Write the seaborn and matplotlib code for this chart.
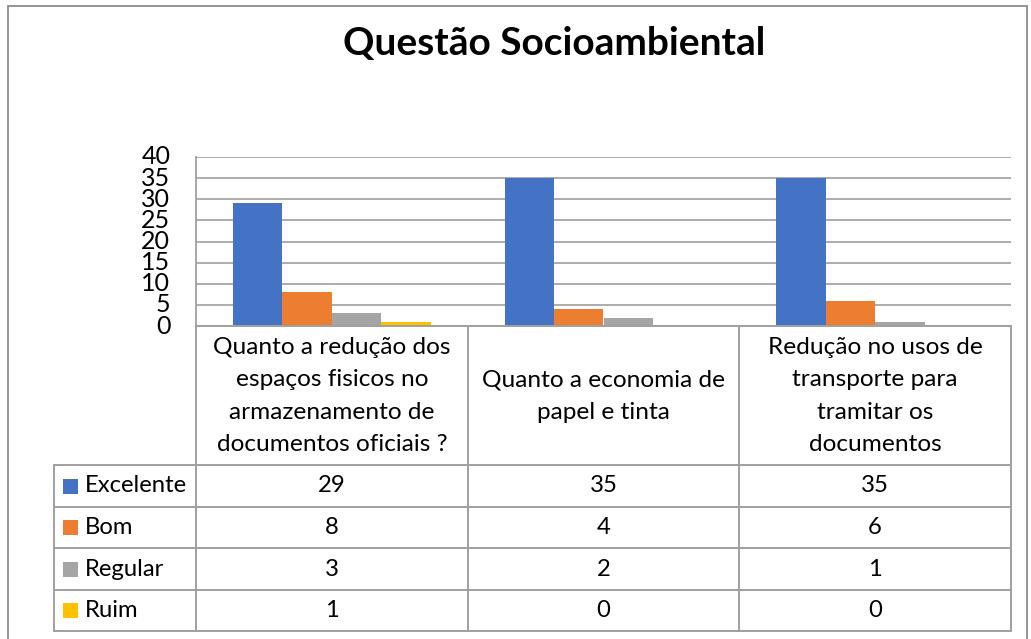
import textwrap
import matplotlib
matplotlib.use("Agg")
import matplotlib.pyplot as plt
import matplotlib.transforms as mtransforms
from matplotlib.lines import Line2D
from matplotlib.patches import Rectangle
import pandas as pd
import seaborn as sns

# ---- data ----
categories = [
    "Quanto a redução dos espaços fisicos no armazenamento de documentos oficiais ?",
    "Quanto a economia de papel e tinta",
    "Redução no usos de transporte para tramitar os documentos",
]
series = ["Excelente", "Bom", "Regular", "Ruim"]
excelente = [29, 35, 35]
bom = [8, 4, 6]
regular = [3, 2, 1]
ruim = [1, 0, 0]
y_ticks = [0, 5, 10, 15, 20, 25, 30, 35, 40]
title = "Questão Socioambiental"
colors = ["#4472C4", "#ED7D31", "#A5A5A5", "#FFC000"]

values = {"Excelente": excelente, "Bom": bom, "Regular": regular, "Ruim": ruim}
rows = []
for s in series:
    for c, v in zip(categories, values[s]):
        rows.append({"categoria": c, "serie": s, "valor": v})
df = pd.DataFrame(rows)

# ---- figure ----
sns.set_theme(style="white")
plt.rcParams["font.family"] = ["Lato", "DejaVu Sans"]

W, H = 1031, 639
fig = plt.figure(figsize=(W / 100, H / 100), dpi=100)

def fx(px):
    return px / W

def fy(py):
    return 1 - py / H

ax = fig.add_axes([fx(196), fy(326), fx(1011) - fx(196), fy(157) - fy(326)])
sns.barplot(data=df, x="categoria", y="valor", hue="serie", order=categories,
            hue_order=series, palette=colors, width=0.727, saturation=1,
            edgecolor="none", linewidth=0, legend=False, ax=ax)

ax.set_xlim(-0.5, len(categories) - 0.5)
ax.set_ylim(0, 40)
ax.set_yticks(y_ticks)
ax.set_yticklabels([str(t) for t in y_ticks], fontsize=18, color="black")
ax.set_xticks([])
ax.set_xlabel("")
ax.set_ylabel("")
ax.tick_params(axis="y", length=0, pad=18.5)
for lab in ax.get_yticklabels():
    lab.set_verticalalignment("center")
ax.grid(axis="y", color="#A6A6A6", linewidth=1.3)
ax.set_axisbelow(True)
for side in ["top", "right", "bottom"]:
    ax.spines[side].set_visible(False)
ax.spines["left"].set_color("#A0A0A0")
ax.spines["left"].set_linewidth(1.3)

# title
fig.text(fx(554), fy(43), title, ha="center", va="center",
         fontsize=28, fontweight="bold", color="black")

# ---- data table ----
line_c = "#A0A0A0"
lw = 1.4
bt = mtransforms.blended_transform_factory(ax.transData, fig.transFigure)
ft = fig.transFigure

top_hdr = fy(326)
row_edges = [465, 507, 548, 590, 631]

# header vertical lines (category boundaries from data scale)
bounds = [i - 0.5 for i in range(len(categories) + 1)]
for b in bounds:
    fig.add_artist(Line2D([b, b], [fy(326), fy(row_edges[-1])], transform=bt,
                          color=line_c, lw=lw))
# horizontal lines
fig.add_artist(Line2D([bounds[0], bounds[-1]], [top_hdr, top_hdr], transform=bt,
                      color=line_c, lw=lw))
for r in row_edges:
    fig.add_artist(Line2D([fx(54), fx(1011)], [fy(r), fy(r)], transform=ft,
                          color=line_c, lw=lw))
# legend column left edge
fig.add_artist(Line2D([fx(54), fx(54)], [fy(row_edges[0]), fy(row_edges[-1])],
                      transform=ft, color=line_c, lw=lw))

# category header text
for i, c in enumerate(categories):
    fig.text(i, fy(396), textwrap.fill(c, 21), transform=bt, ha="center",
             va="center", fontsize=17.6, linespacing=1.68, color="black")

# rows
for j, s in enumerate(series):
    yc = (row_edges[j] + row_edges[j + 1]) / 2
    fig.add_artist(Rectangle((fx(63), fy(yc + 7.5)), fx(15), fy(0) - fy(15),
                             transform=ft, facecolor=colors[j], edgecolor="none"))
    fig.text(fx(85), fy(yc), s, ha="left", va="center", fontsize=17.2, color="black")
    for i, v in enumerate(values[s]):
        fig.text(i, fy(yc), str(v), transform=bt, ha="center", va="center",
                 fontsize=17.2, color="black")

# outer chart border
fig.add_artist(Rectangle((fx(8), fy(650)), fx(1027) - fx(8), fy(6) - fy(650),
                         transform=ft, facecolor="none", edgecolor="#8C8C8C", lw=1.3))

fig.savefig("out.png", dpi=100)
